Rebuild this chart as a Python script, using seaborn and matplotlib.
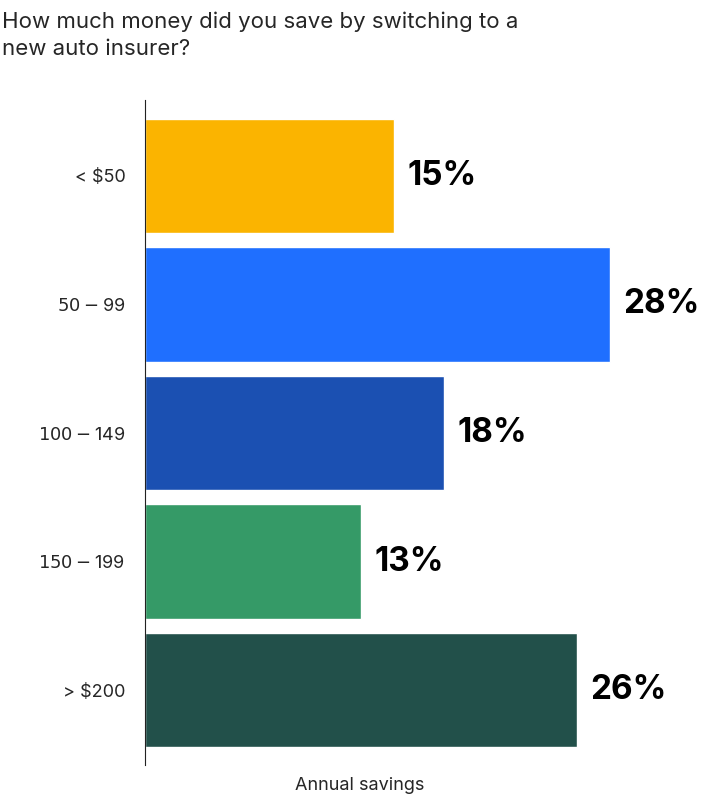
import matplotlib
matplotlib.use("Agg")
import matplotlib.pyplot as plt
import seaborn as sns
import pandas as pd

categories = ["< $50", "$50 - $99", "$100 - $149", "$150 - $199", "> $200"]
values = [15, 28, 18, 13, 26]
colors = ["#FBB400", "#1F6FFF", "#1B50B2", "#359A67", "#22504A"]

sns.set_style("white")
plt.rcParams['font.family'] = ['Inter', 'DejaVu Sans']

df = pd.DataFrame({"cat": categories, "val": values})
fig = plt.figure(figsize=(7.2, 8), dpi=100)
ax = fig.add_axes([0.201, 0.044, 0.799, 0.831])
sns.barplot(data=df, x="val", y="cat", hue="cat", palette=colors, legend=False,
            width=0.89, ax=ax, saturation=1)
ax.set_xlim(0, 34.6)
ax.set_ylim(4.58, -0.59)
for s in ["top", "right", "bottom"]:
    ax.spines[s].set_visible(False)
ax.spines["left"].set_color("#222222")
ax.set_xticks([])
ax.set_ylabel("")
ax.set_xlabel("")
ax.tick_params(axis="y", length=0, labelsize=13, pad=14)
for i, v in enumerate(values):
    ax.text(v + 0.8, i, f"{v}%", va="center", ha="left", fontsize=24, fontweight="bold", color="black")
fig.text(0.5, 1 - 785/800, "Annual savings", ha="center", va="center", fontsize=13)
fig.text(0.003, 0.985, "How much money did you save by switching to a\nnew auto insurer?",
         ha="left", va="top", fontsize=16, linespacing=1.4)
fig.savefig("out.png", dpi=100)
